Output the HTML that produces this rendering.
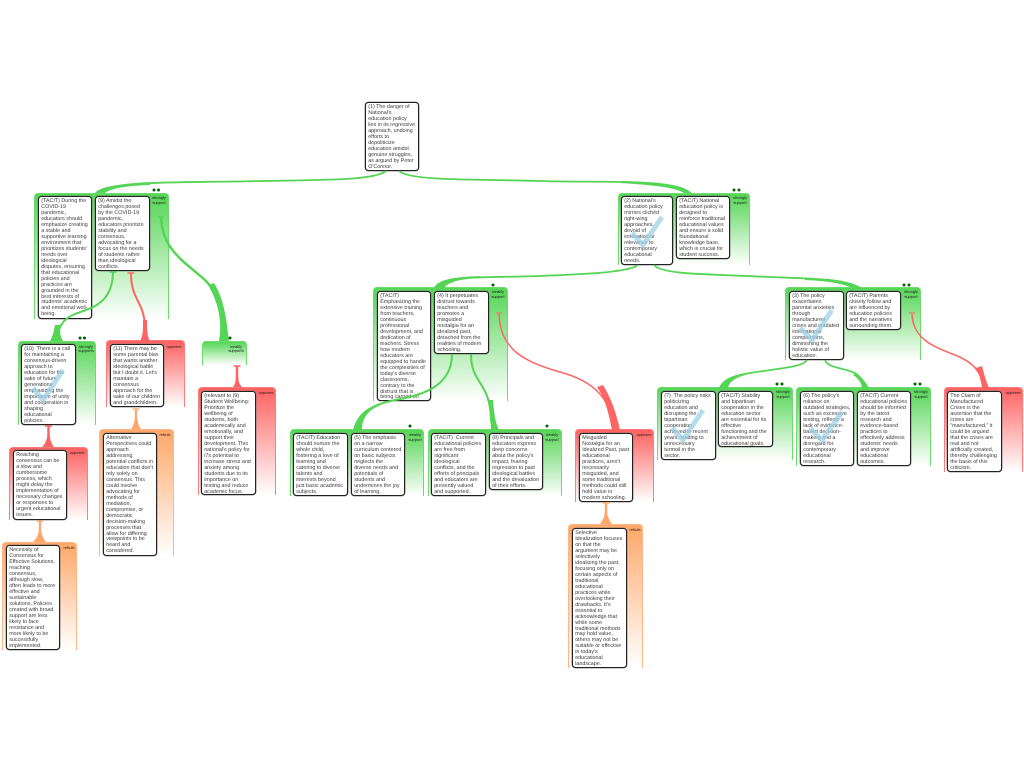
<!DOCTYPE html>
<html><head><meta charset="utf-8"><style>
html,body{margin:0;padding:0;background:#fff;width:1024px;height:768px;overflow:hidden}
body{position:relative;font-family:"Liberation Sans",sans-serif;text-rendering:geometricPrecision}
.g,.n,.l{position:absolute;box-sizing:border-box}
.g{border-radius:4px 4px 0 0;border-style:solid;border-width:1.5px 1px 0 1px}
.s{background:linear-gradient(#55d555,#fff);border-color:#6cdc6c}
.o{background:linear-gradient(#ff6060,#fff);border-color:#ff7a7a}
.r{background:linear-gradient(#ffa768,#fff);border-color:#ffb585}
.n{background:#fff;border:1px solid #222;border-radius:3.5px;box-shadow:0 0 0 .4px #777;font-size:5.38px;line-height:5.97px;color:#3a3a3a;padding:2px 0 0 2.2px;white-space:nowrap;overflow:hidden}
.l{font-size:4px;line-height:4.6px;color:#222;text-align:center;width:24px;white-space:nowrap}
svg{position:absolute;left:0;top:0}
</style></head><body>
<div class="g s" style="left:34px;top:193px;width:135px;height:126px"></div>
<div class="g s" style="left:18px;top:341px;width:78px;height:84px"></div>
<div class="g o" style="left:9px;top:447px;width:79px;height:73px"></div>
<div class="g r" style="left:2px;top:542px;width:75px;height:108px"></div>
<div class="g o" style="left:106px;top:340px;width:79px;height:67px"></div>
<div class="g r" style="left:99px;top:429px;width:75px;height:127px"></div>
<div class="g s" style="left:202px;top:341px;width:45px;height:24px"></div>
<div class="g o" style="left:198px;top:387px;width:78px;height:108px"></div>
<div class="g s" style="left:618px;top:193px;width:132px;height:72px"></div>
<div class="g s" style="left:373px;top:287px;width:135px;height:114px"></div>
<div class="g s" style="left:785px;top:287px;width:136px;height:73px"></div>
<div class="g s" style="left:290px;top:429px;width:134px;height:67px"></div>
<div class="g s" style="left:428px;top:429px;width:134px;height:67px"></div>
<div class="g o" style="left:575px;top:429px;width:79px;height:73px"></div>
<div class="g r" style="left:568px;top:524px;width:75px;height:144px"></div>
<div class="g s" style="left:657px;top:387px;width:136px;height:73px"></div>
<div class="g s" style="left:796px;top:387px;width:135px;height:79px"></div>
<div class="g o" style="left:944px;top:387px;width:79px;height:85px"></div>

<div class="l" style="left:147px;top:196px">strongly<br>support</div>
<div class="l" style="left:74px;top:344.500px">strongly<br>supports</div>
<div class="l" style="left:65px;top:451px">opposes</div>
<div class="l" style="left:57px;top:546px">rebuts</div>
<div class="l" style="left:162px;top:345px">opposes</div>
<div class="l" style="left:153px;top:433px">rebuts</div>
<div class="l" style="left:224px;top:344.500px">weakly<br>supports</div>
<div class="l" style="left:254px;top:391px">opposes</div>
<div class="l" style="left:728px;top:196px">strongly<br>support</div>
<div class="l" style="left:486px;top:290px">weakly<br>support</div>
<div class="l" style="left:899px;top:290px">strongly<br>support</div>
<div class="l" style="left:403px;top:433px">weakly<br>support</div>
<div class="l" style="left:540px;top:433px">weakly<br>support</div>
<div class="l" style="left:632px;top:433px">opposes</div>
<div class="l" style="left:623px;top:528px">rebuts</div>
<div class="l" style="left:771px;top:390px">strongly<br>support</div>
<div class="l" style="left:909px;top:390px">strongly<br>support</div>
<div class="l" style="left:1001px;top:391px">opposes</div>

<div class="n" style="left:365px;top:102px;width:54px;height:69px">(1) The danger of<br>National's<br>education policy<br>lies in its regressive<br>approach, undoing<br>efforts to<br>depoliticize<br>education amidst<br>genuine struggles,<br>as argued by Peter<br>O'Connor.</div>
<div class="n" style="left:38px;top:196px;width:54px;height:123px">(TACIT) During the<br>COVID-19<br>pandemic,<br>educators should<br>emphasize creating<br>a stable and<br>supportive learning<br>environment that<br>prioritizes students'<br>needs over<br>ideological<br>disputes, ensuring<br>that educational<br>policies and<br>practices are<br>grounded in the<br>best interests of<br>students' academic<br>and emotional well-<br>being.</div>
<div class="n" style="left:95px;top:196px;width:55px;height:75px">(9) Amidst the<br>challenges posed<br>by the COVID-19<br>pandemic,<br>educators prioritize<br>stability and<br>consensus,<br>advocating for a<br>focus on the needs<br>of students rather<br>than ideological<br>conflicts.</div>
<div class="n" style="left:21px;top:344px;width:55px;height:81px">(10)&nbsp; There is a call<br>for maintaining a<br>consensus-driven<br>approach to<br>education for the<br>sake of future<br>generations,<br>emphasizing the<br>importance of unity<br>and cooperation in<br>shaping<br>educational<br>policies.</div>
<div class="n" style="left:13px;top:450px;width:54px;height:70px">Reaching<br>consensus can be<br>a slow and<br>cumbersome<br>process, which<br>might delay the<br>implementation of<br>necessary changes<br>or responses to<br>urgent educational<br>issues.</div>
<div class="n" style="left:6px;top:545px;width:54px;height:105px">Necessity of<br>Consensus for<br>Effective Solutions,<br>reaching<br>consensus,<br>although slow,<br>often leads to more<br>effective and<br>sustainable<br>solutions. Policies<br>created with broad<br>support are less<br>likely to face<br>resistance and<br>more likely to be<br>successfully<br>implemented.</div>
<div class="n" style="left:110px;top:344px;width:54px;height:63px">(11) There may be<br>some parental bias<br>that wants another<br>ideological battle<br>but I doubt it. Let's<br>maintain a<br>consensus<br>approach for the<br>sake of our children<br>and grandchildren.</div>
<div class="n" style="left:103px;top:433px;width:54px;height:123px">Alternative<br>Perspectives could<br>approach<br>addressing<br>potential conflicts in<br>education that don't<br>rely solely on<br>consensus. This<br>could involve<br>advocating for<br>methods of<br>mediation,<br>compromise, or<br>democratic<br>decision-making<br>processes that<br>allow for differing<br>viewpoints to be<br>heard and<br>considered.</div>
<div class="n" style="left:201px;top:391px;width:55px;height:104px">(relevant to (9)<br>Student Wellbeing:<br>Prioritize the<br>wellbeing of<br>students, both<br>academically and<br>emotionally, and<br>support their<br>development. This<br>national's policy for<br>i7s potential to<br>increase stress and<br>anxiety among<br>students due to its<br>importance on<br>testing and reduce<br>academic focus.</div>
<div class="n" style="left:621px;top:196px;width:52px;height:69px">(2) National's<br>education policy<br>mirrors clichéd<br>right-wing<br>approaches,<br>devoid of<br>innovation or<br>relevance to<br>contemporary<br>educational<br>needs.</div>
<div class="n" style="left:676px;top:196px;width:54px;height:63px">(TACIT) National<br>education policy is<br>designed to<br>reinforce traditional<br>educational values<br>and ensure a solid<br>foundational<br>knowledge base,<br>which is crucial for<br>student success.</div>
<div class="n" style="left:377px;top:291px;width:54px;height:110px">(TACIT)<br>Emphasizing the<br>extensive training<br>from teachers,<br>continuous<br>professional<br>development, and<br>dedication of<br>teachers. Stress<br>how modern<br>educators are<br>equipped to handle<br>the complexities of<br>today's diverse<br>classrooms,<br>contrary to the<br>distrust that is<br>being carried on</div>
<div class="n" style="left:434px;top:291px;width:55px;height:63px">(4) It perpetuates<br>distrust towards<br>teachers and<br>promotes a<br>misguided<br>nostalgia for an<br>idealized past,<br>detached from the<br>realities of modern<br>schooling.</div>
<div class="n" style="left:789px;top:291px;width:55px;height:69px">(3) The policy<br>exacerbates<br>parental anxieties<br>through<br>manufactured<br>crises and outdated<br>international<br>comparisons,<br>diminishing the<br>holistic value of<br>education.</div>
<div class="n" style="left:846px;top:291px;width:55px;height:39px">(TACIT) Parents<br>closely follow and<br>are influenced by<br>education policies<br>and the narratives<br>surrounding them.</div>
<div class="n" style="left:293px;top:433px;width:55px;height:63px">(TACIT) Education<br>should nurture the<br>whole child,<br>fostering a love of<br>learning and<br>catering to diverse<br>talents and<br>interests beyond<br>just basic academic<br>subjects.</div>
<div class="n" style="left:351px;top:433px;width:54px;height:63px">(5) The emphasis<br>on a narrow<br>curriculum centered<br>on basic subjects<br>neglects the<br>diverse needs and<br>potentials of<br>students and<br>undermines the joy<br>of learning.</div>
<div class="n" style="left:431px;top:433px;width:55px;height:63px">(TACIT)&nbsp; Current<br>educational policies<br>are free from<br>significant<br>ideological<br>conflicts, and the<br>efforts of principals<br>and educators are<br>presently valued<br>and supported.</div>
<div class="n" style="left:489px;top:433px;width:54px;height:57px">(8) Principals and<br>educators express<br>deep concerns<br>about the policy's<br>impact, fearing<br>regression to past<br>ideological battles<br>and the devaluation<br>of their efforts.</div>
<div class="n" style="left:579px;top:433px;width:54px;height:69px">Misguided<br>Nostalgia for an<br>Idealized Past, past<br>educational<br>practices, aren't<br>necessarily<br>misguided, and<br>some traditional<br>methods could still<br>hold value in<br>modern schooling.</div>
<div class="n" style="left:572px;top:528px;width:55px;height:140px">Selective<br>Idealization focuses<br>on that the<br>argument may be<br>selectively<br>idealizing the past,<br>focusing only on<br>certain aspects of<br>traditional<br>educational<br>practices while<br>overlooking their<br>drawbacks. It's<br>essential to<br>acknowledge that<br>while some<br>traditional methods<br>may hold value,<br>others may not be<br>suitable or effective<br>in today's<br>educational<br>landscape.</div>
<div class="n" style="left:661px;top:391px;width:55px;height:69px">(7)&nbsp; The policy risks<br>politicizing<br>education and<br>disrupting the<br>bipartisan<br>cooperation<br>achieved in recent<br>years, leading to<br>unnecessary<br>turmoil in the<br>sector.</div>
<div class="n" style="left:718px;top:391px;width:55px;height:56px">(TACIT) Stability<br>and bipartisan<br>cooperation in the<br>education sector<br>are essential for its<br>effective<br>functioning and the<br>achievement of<br>educational goals.</div>
<div class="n" style="left:800px;top:391px;width:54px;height:75px">(6) The policy's<br>reliance on<br>outdated strategies,<br>such as excessive<br>testing, reflects a<br>lack of evidence-<br>based decision-<br>making and a<br>disregard for<br>contemporary<br>educational<br>research.</div>
<div class="n" style="left:857px;top:391px;width:54px;height:75px">(TACIT) Current<br>educational policies<br>should be informed<br>by the latest<br>research and<br>evidence-based<br>practices to<br>effectively address<br>students' needs<br>and improve<br>educational<br>outcomes.</div>
<div class="n" style="left:947px;top:391px;width:55px;height:81px">The Claim of<br>Manufactured<br>Crises is the<br>assertion that the<br>crises are<br>"manufactured," it<br>could be argued<br>that the crises are<br>real and not<br>artificially created,<br>thereby challenging<br>the basis of this<br>criticism.</div>

<svg width="1024" height="768" viewBox="0 0 1024 768">
<g fill="none" stroke="#9fd2e6" stroke-width="5" opacity=".75">
<path d="M33 388L43 400L63 370"/>
<path d="M632 233L643 245L662 217"/>
<path d="M800 328L812 340L832 310"/>
<path d="M672 428L683 440L703 410"/>
<path d="M810 428L822 440L842 412"/>
</g>
<g fill="#006400">
<circle cx="154" cy="190" r="1.500"/><circle cx="158.500" cy="190" r="1.500"/>
<circle cx="80" cy="338" r="1.500"/><circle cx="84.500" cy="338" r="1.500"/>
<circle cx="230" cy="338" r="1.500"/>
<circle cx="734" cy="190" r="1.500"/><circle cx="739" cy="190" r="1.500"/>
<circle cx="493" cy="285" r="1.500"/>
<circle cx="904" cy="285" r="1.500"/><circle cx="909" cy="285" r="1.500"/>
<circle cx="410" cy="426" r="1.500"/><circle cx="547" cy="426" r="1.500"/>
<circle cx="777" cy="384" r="1.500"/><circle cx="782" cy="384" r="1.500"/>
<circle cx="915" cy="384" r="1.500"/><circle cx="920" cy="384" r="1.500"/>
</g>
<g fill="none" stroke="#55d555" stroke-width="1.800">
<path d="M386 171C375 180 330 180 260 181C180 183 110 180 97 193"/>
<path d="M399 171C410 181 470 179 540 181C600 183 670 178 690 193"/>
<path d="M638 265C630 272 590 274 540 276C480 278 445 275 436 288"/>
<path d="M654 265C662 275 710 274 770 277C820 279 845 279 858 288"/>
<path d="M807 360C803 368 770 369 745 374C730 377 726 380 723 388"/>
<path d="M825 360C827 368 845 368 855 373C861 377 864 382 866 388"/>
<path d="M452 354C452 385 425 395 395 400C370 405 358 415 356 430" stroke-width="2"/>
<path d="M471 354C471 385 490 380 491 420L493 430" stroke-width="2"/>
<path d="M113 271C113 305 90 308 75 314C62 319 58 328 57 341" stroke-width="2"/>
<path d="M161 217C162 250 185 262 205 280C220 295 224 315 224 341" stroke-width="2.500"/>
</g>
<g fill="#55d555">
<path d="M95 193C101 186 115 185 150 183L150 185C125 186 112 188 105 193Z"/>
<path d="M684 193C674 187 650 185 620 183L620 181C655 182 680 183 692 193Z"/>
<path d="M434 288C438 279 455 277 480 276L480 278C460 279 448 282 444 288Z"/>
<path d="M852 288C842 283 825 281 805 280L805 278C830 279 850 280 862 288Z"/>
<path d="M719 388C722 380 730 376 745 373L745 375C735 378 729 382 728 388Z"/>
<path d="M862 388C861 382 858 378 853 375L855 373C861 376 865 381 869 388Z"/>
<path d="M353 430C356 420 360 410 380 403L381 405C368 410 362 418 362 430Z"/>
<path d="M491 430C491 420 490 410 489 400L493 400C494 412 495 422 499 430Z"/>
<path d="M50 341C53 336 54 330 55 325L60 325C60 332 60 336 63 341Z"/>
<path d="M219 341C222 325 220 305 208 285L214 283C225 300 227 325 229 341Z"/>
</g>
<g fill="#ff6464">
<path d="M612 430C609 415 606 400 597 387L603 385C611 398 616 412 620 430Z"/>
<path d="M982 388C981 380 979 374 976 368L982 366C984 374 986 381 989 388Z"/>
<path d="M140 341C143 336 143 330 143 320L147 320C147 330 147 336 150 341Z"/>
<path d="M233 387C236 383 236 378 236 372L238 372C238 378 238 383 242 387Z"/>
<path d="M42 447C46 443 47.500 438 47.500 432L49.500 432C49.500 438 51 443 54 447Z"/>
</g>
<g fill="none" stroke="#ff6464" stroke-width="1.500">
<path d="M499 314C500 350 525 362 560 372C590 380 610 395 615 430"/>
<path d="M912 314C913 340 935 347 955 355C975 363 980 372 985 388"/>
<path d="M131 273C131 300 143 300 145 325L145 341" stroke-width="2"/>
<path d="M237 366L237 387" stroke-width="2.500"/>
<path d="M48.500 426L48.500 447" stroke-width="2.500"/>
</g>
<g fill="#ffa768">
<path d="M33 542C37 538 39 534 39 527L41 527C41 534 43 538 46 542Z"/>
<path d="M131 429C134 425 135 420 135 414L137 414C137 420 138 425 141 429Z"/>
<path d="M600 524C603 520 605 516 605 509L607 509C607 516 609 520 612 524Z"/>
</g>
<g fill="none" stroke="#ffa768" stroke-width="2.300">
<path d="M40 521L40 542"/><path d="M136 409L136 429"/><path d="M606 503L606 524"/>
</g>
<g fill="none" stroke-width="1.500">
<path d="M158 217H164" stroke="#55d555"/>
<path d="M109.500 272H116.500" stroke="#55d555"/>
<path d="M127.500 273H134.500" stroke="#ff7070"/>
<path d="M233.500 366H240.500" stroke="#ff6464"/>
<path d="M45 426H52" stroke="#ff6464"/>
<path d="M36.500 521H43.500" stroke="#ffb27c"/>
<path d="M132.500 409H139.500" stroke="#ffb27c"/>
<path d="M602.500 503H609.500" stroke="#ffb27c"/>
<path d="M496 313H502" stroke="#d48d6d"/>
<path d="M909 313H915" stroke="#d48d6d"/>
</g>
</svg>
</body></html>
